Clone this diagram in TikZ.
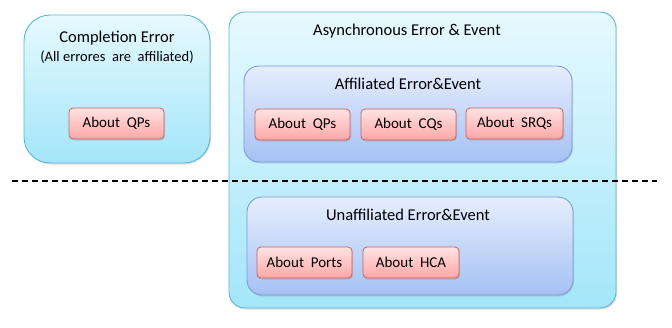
\documentclass[tikz,border=0pt]{standalone}
\usepackage{fontspec}
\setmainfont{Carlito}
\usetikzlibrary{shadows}
\definecolor{outerTop}{HTML}{E6F9FE}
\definecolor{outerBot}{HTML}{A3E6FA}
\definecolor{outerLine}{HTML}{5BB7D0}
\definecolor{innerTop}{HTML}{E6EEFD}
\definecolor{innerBot}{HTML}{A5C1F4}
\definecolor{innerLine}{HTML}{7C9BD2}
\definecolor{redTop}{HTML}{FFE3E3}
\definecolor{redBot}{HTML}{FFA6A6}
\definecolor{redLine}{HTML}{C9605E}
\tikzset{
  x=1pt, y=-1pt,
  outerbox/.style={draw=outerLine, line width=0.9pt, top color=outerTop, bottom color=outerBot, drop shadow={shadow xshift=1pt, shadow yshift=-1.5pt, opacity=0.25}},
  innerbox/.style={draw=innerLine, line width=0.9pt, rounded corners=15pt, top color=innerTop, bottom color=innerBot, drop shadow={shadow xshift=1pt, shadow yshift=-1.5pt, opacity=0.25}},
  redbox/.style={draw=redLine, line width=0.8pt, rounded corners=4pt, top color=redTop, bottom color=redBot, minimum width=95pt, minimum height=31pt, font=\fontsize{15}{17}\selectfont, inner sep=0pt, drop shadow={shadow xshift=1pt, shadow yshift=-1.5pt, opacity=0.25}},
  lbl/.style={font=\fontsize{16.5}{19}\selectfont, inner sep=0pt},
  sublbl/.style={font=\fontsize{14.5}{17}\selectfont, inner sep=0pt},
}
\begin{document}
\begin{tikzpicture}
\useasboundingbox (0,0) rectangle (672,327);
% Completion box
\path[outerbox, rounded corners=26pt] (24,15) rectangle (210,163);
\node[lbl] (ct) at (117,38) {Completion Error};
\node[sublbl] (cs) at (117,57) {(All errores\ \ are\ \ affiliated)};
\node[redbox] (cqp) at (116.5,123.5) {About\ \ QPs};
% Async box
\path[outerbox, rounded corners=16pt] (229,12) rectangle (616,308);
\node[lbl] (at) at (407,31) {Asynchronous Error \& Event};
% Affiliated
\path[innerbox] (244,66) rectangle (572,162);
\node[lbl] (aft) at (408,84) {Affiliated Error\&Event};
\node[redbox] (aqp) at (302.5,124.5) {About\ \ QPs};
\node[redbox] (acq) at (408.5,124.5) {About\ \ CQs};
\node[redbox, minimum width=97pt] (asrq) at (514.5,123.5) {About\ \ SRQs};
% Unaffiliated
\path[innerbox] (247,197) rectangle (573,295);
\node[lbl] (uft) at (408,215) {Unaffiliated Error\&Event};
\node[redbox] (upo) at (304.5,262.5) {About\ \ Ports};
\node[redbox, minimum width=96pt] (uhca) at (411,262.5) {About\ \ HCA};
% dashed line
\coordinate (dl) at (12,181);
\coordinate (dr) at (657,181);
\draw[line width=1.3pt, dash pattern=on 6pt off 4pt] (dl) -- (dr);
\end{tikzpicture}
\end{document}
